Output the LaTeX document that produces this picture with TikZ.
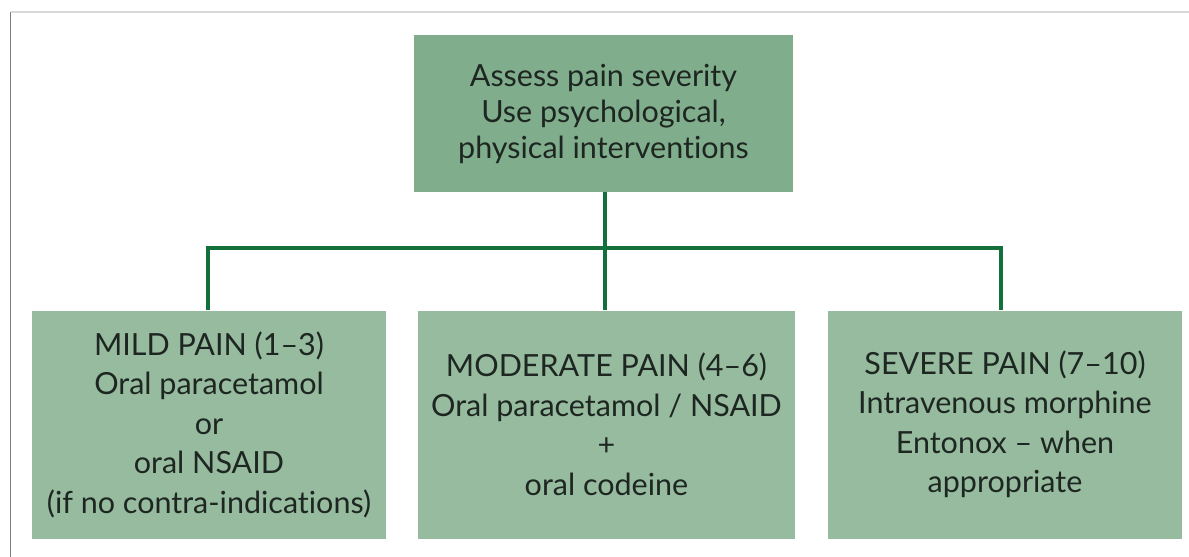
\documentclass[tikz,border=0pt]{standalone}
\usepackage{fontspec}
\setmainfont{Lato}[Ligatures=NoCommon]
\definecolor{boxtop}{HTML}{80AE8D}
\definecolor{boxlow}{HTML}{96BB9E}
\definecolor{linkgreen}{HTML}{14703A}
\definecolor{inktext}{HTML}{1E2622}
\tikzset{
  painbox/.style={fill=boxlow, text=inktext, align=center, inner sep=0pt,
    minimum height=228pt, font=\fontsize{30.5}{39.5}\selectfont},
  topbox/.style={painbox, fill=boxtop, minimum width=379pt, minimum height=157pt,
    font=\fontsize{30.5}{36}\selectfont},
  link/.style={draw=linkgreen, line width=3.8pt}
}
\begin{document}
\begin{tikzpicture}[x=1pt, y=-1pt]
    % Textos das caixas
    \def\assessTxt{Assess pain severity\\Use psychological,\\physical interventions}
    \def\mildTxt{MILD PAIN (1--3)\\Oral paracetamol\\or\\oral NSAID\\(if no contra-indications)}
    \def\moderateTxt{MODERATE PAIN (4--6)\\Oral paracetamol / NSAID\\+\\oral codeine}
    \def\severeTxt{SEVERE PAIN (7--10)\\Intravenous morphine\\Entonox -- when\\appropriate}

    % Margens e moldura
    \useasboundingbox (0,0) rectangle (1189,557);
    \draw[black!50, line width=1.5pt] (10.5,557) -- (10.5,12);
    \draw[black!15, line width=1.2pt] (10.5,12) -- (1189,12);

    % Caixas
    \node[topbox] (assess) at (603.5,113.5) {\assessTxt};
    \node[painbox, minimum width=354pt] (mild) at (209,424.5) {\mildTxt};
    \node[painbox, minimum width=377pt] (moderate) at (606.5,424.5) {\moderateTxt};
    \node[painbox, minimum width=354pt] (severe) at (1005,424.5) {\severeTxt};

    % Ligações
    \coordinate (split) at (605,248);
    \draw[link] (assess.south -| split) -- (moderate.north -| split);
    \draw[link] (mild.north -| 208,0) |- (split) -| (severe.north -| 1001,0);
\end{tikzpicture}
\end{document}
